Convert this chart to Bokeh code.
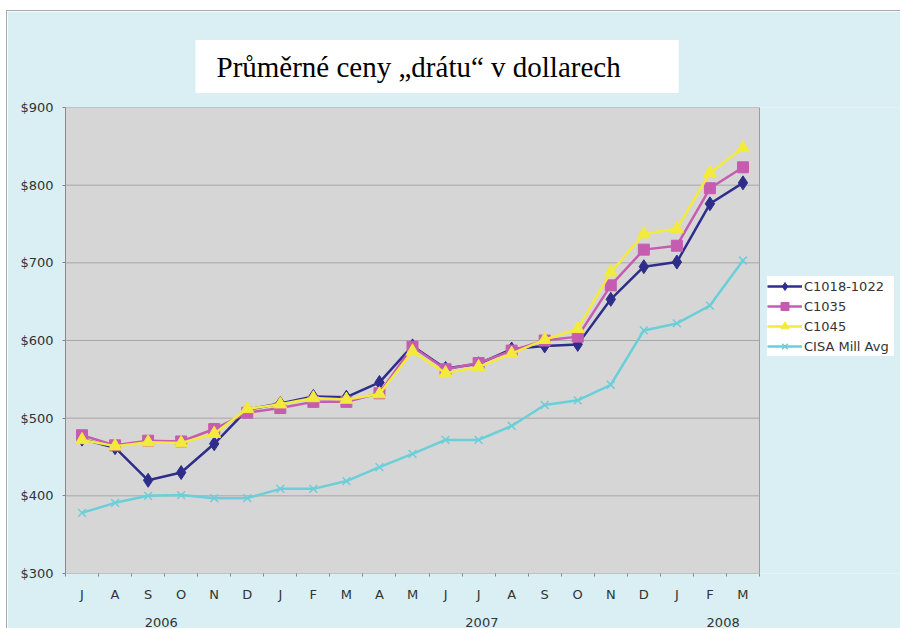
from bokeh.plotting import figure
from bokeh.models import (FixedTicker, LinearAxis, NumeralTickFormatter, Range1d)
from bokeh.embed import file_html
from bokeh.resources import INLINE

# ---- data ----
months = ["J", "A", "S", "O", "N", "D", "J", "F", "M", "A", "M", "J",
          "J", "A", "S", "O", "N", "D", "J", "F", "M"]
years = ["2006", "2007", "2008"]
year_label_at = [2.4, 12.1, 19.4]
y_ticks = [300, 400, 500, 600, 700, 800, 900]

c1018_1022 = [473, 462, 420, 430, 467, 511, 519, 528, 527, 546, 593, 564,
              570, 589, 593, 595, 653, 695, 701, 776, 803]
c1035 = [478, 465, 471, 470, 486, 507, 513, 521, 521, 532, 592, 563,
         571, 587, 600, 605, 671, 717, 722, 796, 823]
c1045 = [472, 464, 469, 468, 480, 512, 518, 526, 524, 531, 586, 558,
         566, 583, 601, 615, 688, 737, 744, 816, 848]
cisa_mill_avg = [378, 391, 400, 401, 397, 397, 409, 409, 419, 437, 454, 472,
                 472, 490, 517, 523, 543, 613, 622, 645, 703]

title_text = "Průměrné ceny „drátu“ v dollarech"

series = [
    ("C1018-1022", c1018_1022, "#2E2E8A", "diamond", 14),
    ("C1035", c1035, "#C65CB0", "square", 11),
    ("C1045", c1045, "#F2EA3C", "triangle", 13),
    ("CISA Mill Avg", cisa_mill_avg, "#6ACFD8", "x", 11),
]

# ---- layout constants ----
W, H = 894, 618
LEFT, TOP, BOTTOM = 58, 96, 55
DATA_W = 694                      # pixel width of the grey plotting area
FRAME_W = W - LEFT                # frame extends to the right edge (room for legend)
BG = "#D9EFF3"
PLOT_BG = "#D6D6D6"
EDGE = "#9C9C9C"

xs = list(range(len(months)))
x0, x1 = -0.5, len(months) - 0.5
x_end = x0 + len(months) * FRAME_W / DATA_W
y0, y1 = y_ticks[0], y_ticks[-1]

p = figure(width=W, height=H, output_backend="svg", toolbar_location=None,
           x_range=Range1d(x0, x_end), y_range=Range1d(y0, y1),
           min_border_left=LEFT, min_border_right=0, min_border_top=TOP,
           min_border_bottom=BOTTOM,
           background_fill_color=BG, border_fill_color=BG,
           outline_line_color=None)
p.styles = {"margin-left": "6px", "margin-top": "10px",
            "border-left": "1px solid #A8A8A8", "border-top": "1px solid #A8A8A8"}

FONT = "DejaVu Sans"
TXT = "#333333"
FS = "13px"

# grey plotting area with its border
p.quad(left=[x0], right=[x1], bottom=[y0], top=[y1], fill_color=PLOT_BG,
       line_color=EDGE, line_width=1, level="underlay")
# horizontal gridlines limited to the plotting area
p.segment(x0=[x0] * (len(y_ticks) - 2), x1=[x1] * (len(y_ticks) - 2),
          y0=y_ticks[1:-1], y1=y_ticks[1:-1], line_color="#A6A6A6", line_width=1,
          level="underlay")
p.xgrid.visible = False
p.ygrid.visible = False

# x axis (months)
p.xaxis.ticker = FixedTicker(ticks=xs, minor_ticks=[i - 0.5 for i in range(len(months) + 1)])
p.xaxis.major_label_overrides = {i: m for i, m in enumerate(months)}
p.xaxis.major_tick_out = 0
p.xaxis.major_tick_in = 0
p.xaxis.minor_tick_out = 3
p.xaxis.minor_tick_in = 0
p.xaxis.minor_tick_line_color = "#888888"
p.xaxis.axis_line_color = None
p.xaxis.major_label_standoff = 10
p.xaxis.major_label_text_font = FONT
p.xaxis.major_label_text_font_size = FS
p.xaxis.major_label_text_color = TXT

# year axis
year_axis = LinearAxis(ticker=FixedTicker(ticks=year_label_at),
                       major_label_overrides={pos: y for pos, y in zip(year_label_at, years)},
                       axis_line_color=None, major_tick_line_color=None,
                       minor_tick_line_color=None, major_label_standoff=7,
                       major_label_text_font=FONT, major_label_text_font_size=FS,
                       major_label_text_color=TXT)
p.add_layout(year_axis, "below")

# y axis
p.yaxis.ticker = FixedTicker(ticks=y_ticks)
p.yaxis.formatter = NumeralTickFormatter(format="$0")
p.yaxis.major_tick_out = 3
p.yaxis.major_tick_in = 0
p.yaxis.minor_tick_line_color = None
p.yaxis.axis_line_color = "#888888"
p.yaxis.major_tick_line_color = "#888888"
p.yaxis.major_label_standoff = 9
p.yaxis.major_label_text_font = FONT
p.yaxis.major_label_text_font_size = FS
p.yaxis.major_label_text_color = TXT

for name, vals, col, marker, size in series:
    p.line(xs, vals, line_color=col, line_width=2.5, legend_label=name)
    if marker == "x":
        p.scatter(xs, vals, marker=marker, size=size, line_color=col, line_width=1.5,
                  legend_label=name)
    else:
        p.scatter(xs, vals, marker=marker, size=size, fill_color=col, line_color=col,
                  legend_label=name)

leg = p.legend[0]
leg.location = (DATA_W + 8, 217)
leg.background_fill_color = "white"
leg.background_fill_alpha = 1
leg.border_line_color = None
leg.padding = 6
leg.spacing = 0
leg.margin = 0
leg.label_height = 20
leg.label_width = 90
leg.glyph_height = 20
leg.glyph_width = 35
leg.label_standoff = 2
leg.label_text_font = FONT
leg.label_text_font_size = FS
leg.label_text_color = TXT

p.title.text = title_text
p.title.text_font = "Liberation Serif"
p.title.text_font_size = "29px"
p.title.text_font_style = "normal"
p.title.text_color = "black"
p.title.align = "left"
p.title.offset = 130
p.title.standoff = 29
p.title.background_fill_color = "white"
p.title.background_fill_alpha = 1
p.title.padding = dict(left=21, right=58, top=11, bottom=10)

open("out.html", "w").write(file_html(p, INLINE))
